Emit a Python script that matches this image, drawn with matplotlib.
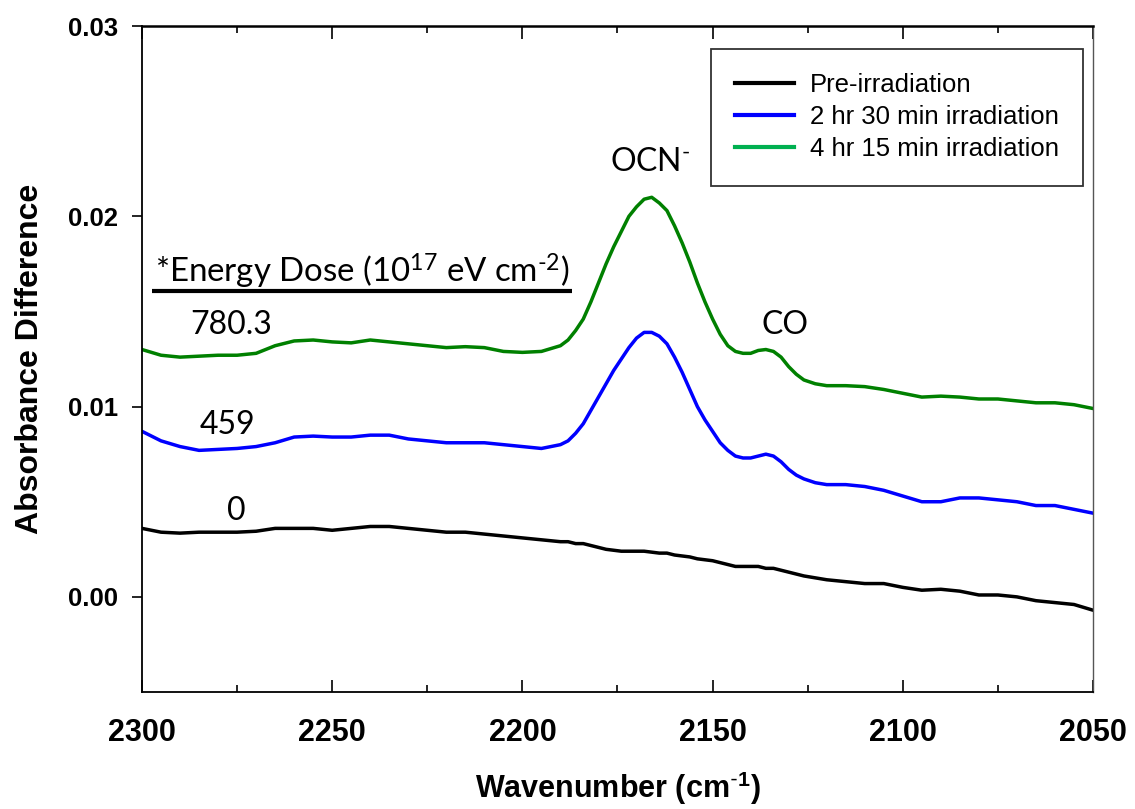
import numpy as np
import matplotlib
matplotlib.use("Agg")
import matplotlib.pyplot as plt
from matplotlib.lines import Line2D

# Difference spectra in the OCN- / CO region
wavenumber = [2300, 2295, 2290, 2285, 2280, 2275, 2270, 2265, 2260, 2255,
              2250, 2245, 2240, 2235, 2230, 2225, 2220, 2215, 2210, 2205,
              2200, 2195,
              2190, 2188, 2186, 2184, 2182, 2180, 2178, 2176, 2174, 2172,
              2170, 2168, 2166, 2164, 2162, 2160, 2158, 2156, 2154, 2152,
              2150, 2148, 2146, 2144, 2142, 2140, 2138, 2136, 2134, 2132,
              2130, 2128, 2126,
              2123, 2120, 2115, 2110, 2105, 2100, 2095, 2090, 2085, 2080,
              2075, 2070, 2065, 2060, 2055, 2050]

pre_irr = [0.0036, 0.0034, 0.00335, 0.0034, 0.0034, 0.0034, 0.00345, 0.0036, 0.0036, 0.0036,
           0.0035, 0.0036, 0.0037, 0.0037, 0.0036, 0.0035, 0.0034, 0.0034, 0.0033, 0.0032,
           0.0031, 0.0030,
           0.0029, 0.0029, 0.0028, 0.0028, 0.0027, 0.0026, 0.0025, 0.00245, 0.0024, 0.0024,
           0.0024, 0.0024, 0.00235, 0.0023, 0.0023, 0.0022, 0.00215, 0.0021, 0.0020, 0.00195,
           0.0019, 0.0018, 0.0017, 0.0016, 0.0016, 0.0016, 0.0016, 0.0015, 0.0015, 0.0014,
           0.0013, 0.0012, 0.0011,
           0.0010, 0.0009, 0.0008, 0.0007, 0.0007, 0.0005, 0.00035, 0.0004, 0.0003, 0.0001,
           0.0001, 0.0000, -0.0002, -0.0003, -0.0004, -0.0007]

irr_2h30 = [0.0087, 0.0082, 0.0079, 0.0077, 0.00775, 0.0078, 0.0079, 0.0081, 0.0084, 0.00845,
            0.0084, 0.0084, 0.0085, 0.0085, 0.0083, 0.0082, 0.0081, 0.0081, 0.0081, 0.0080,
            0.0079, 0.0078,
            0.0080, 0.0082, 0.0086, 0.0091, 0.0098, 0.0105, 0.0112, 0.0119, 0.0125, 0.0131,
            0.0136, 0.0139, 0.0139, 0.0137, 0.0133, 0.0126, 0.0118, 0.0109, 0.0100, 0.0093,
            0.0087, 0.0081, 0.0077, 0.0074, 0.0073, 0.0073, 0.0074, 0.0075, 0.0074, 0.0071,
            0.0067, 0.0064, 0.0062,
            0.0060, 0.0059, 0.0059, 0.0058, 0.0056, 0.0053, 0.0050, 0.0050, 0.0052, 0.0052,
            0.0051, 0.0050, 0.0048, 0.0048, 0.0046, 0.0044]

irr_4h15 = [0.0130, 0.0127, 0.0126, 0.01265, 0.0127, 0.0127, 0.0128, 0.0132, 0.01345, 0.0135,
            0.0134, 0.01335, 0.0135, 0.0134, 0.0133, 0.0132, 0.0131, 0.01315, 0.0131, 0.0129,
            0.01285, 0.0129,
            0.0132, 0.0135, 0.0140, 0.0146, 0.0155, 0.0165, 0.0175, 0.0184, 0.0192, 0.0200,
            0.0205, 0.0209, 0.0210, 0.0207, 0.0203, 0.0195, 0.0186, 0.0176, 0.0165, 0.0155,
            0.0146, 0.0138, 0.0132, 0.0129, 0.0128, 0.0128, 0.01295, 0.0130, 0.0129, 0.0126,
            0.0121, 0.0117, 0.0114,
            0.0112, 0.0111, 0.0111, 0.01105, 0.0109, 0.0107, 0.0105, 0.01055, 0.0105, 0.0104,
            0.0104, 0.0103, 0.0102, 0.0102, 0.0101, 0.0099]

labels = ["Pre-irradiation", "2 hr 30 min irradiation", "4 hr 15 min irradiation"]
doses = ["0", "459", "780.3"]

plt.rcParams['font.family'] = ['Liberation Sans', 'DejaVu Sans']
plt.rcParams['mathtext.fontset'] = 'custom'
plt.rcParams['mathtext.rm'] = 'Lato'
plt.rcParams['mathtext.it'] = 'Lato:italic'
plt.rcParams['mathtext.bf'] = 'Liberation Sans:bold'

fig = plt.figure(figsize=(11.35, 8.09), dpi=100)
ax = fig.add_axes([0.1251, 0.1446, 0.8379, 0.8232])

line_kw = dict(lw=2.5, solid_joinstyle="round", solid_capstyle="round")
ax.plot(wavenumber, pre_irr, color="black", **line_kw)
ax.plot(wavenumber, irr_2h30, color="#0000ff", **line_kw)
ax.plot(wavenumber, irr_4h15, color="#008000", **line_kw)

ax.set_xlim(2300, 2050)
ax.set_ylim(-0.005, 0.03)
ax.set_xticks([2300, 2250, 2200, 2150, 2100, 2050])
ax.set_xticks(np.arange(2275, 2050, -50), minor=True)
ax.set_yticks([0.00, 0.01, 0.02, 0.03])
ax.set_yticklabels(["0.00", "0.01", "0.02", "0.03"])

ax.tick_params(axis="x", which="major", direction="in", top=True, length=9, width=1.2,
               labelsize=22, pad=19)
ax.tick_params(axis="x", which="minor", direction="in", top=True, length=5, width=1.2)
ax.tick_params(axis="y", which="major", direction="out", length=7, width=1.2,
               labelsize=18.5, pad=10)
for lab in ax.get_xticklabels() + ax.get_yticklabels():
    lab.set_fontweight("bold")

for side in ["left", "bottom"]:
    ax.spines[side].set_linewidth(1.3)
ax.spines["top"].set_linewidth(1.8)
ax.spines["right"].set_linewidth(1.0)
ax.spines["right"].set_color("#555555")

ax.set_xlabel("Wavenumber (cm$^{\\mathbf{\\text{-}1}}$)", fontsize=22, fontweight="bold", labelpad=15)
ax.set_ylabel("Absorbance Difference", fontsize=23, fontweight="bold", labelpad=17)

# legend with Excel-style handle colours
handles = [Line2D([], [], color="black", lw=3),
           Line2D([], [], color="#0000ff", lw=3),
           Line2D([], [], color="#00b050", lw=3)]
leg = ax.legend(handles, labels, loc="upper right", bbox_to_anchor=(0.9895, 0.9655),
                borderaxespad=0, fancybox=False, edgecolor="black", fontsize=18.5,
                handlelength=2.3, handletextpad=0.6, borderpad=0.95, labelspacing=0.31)
leg.get_frame().set_linewidth(1.3)

# dose annotations
anno = dict(family="Lato", fontsize=23, color="black")
ax.text(2296.6, 0.01708, "*Energy Dose (10$^{17}$ eV cm$^{\\text{-}2}$)", ha="left", va="center",
        family="Lato", fontsize=23.8, color="black")
ax.plot([2297.4, 2187.0], [0.0161, 0.0161], color="black", lw=3, solid_capstyle="butt")
ax.text(2287.4, 0.01429, doses[2], ha="left", va="center", **anno)
ax.text(2284.8, 0.00904, doses[1], ha="left", va="center", **anno)
ax.text(2275.3, 0.00452, doses[0], ha="center", va="center", **anno)
ax.text(2166.5, 0.02286, "OCN$^{\\text{-}}$", ha="center", va="center", **anno)
ax.text(2131.0, 0.01429, "CO", ha="center", va="center", **anno)

fig.savefig("out.png", dpi=100)
